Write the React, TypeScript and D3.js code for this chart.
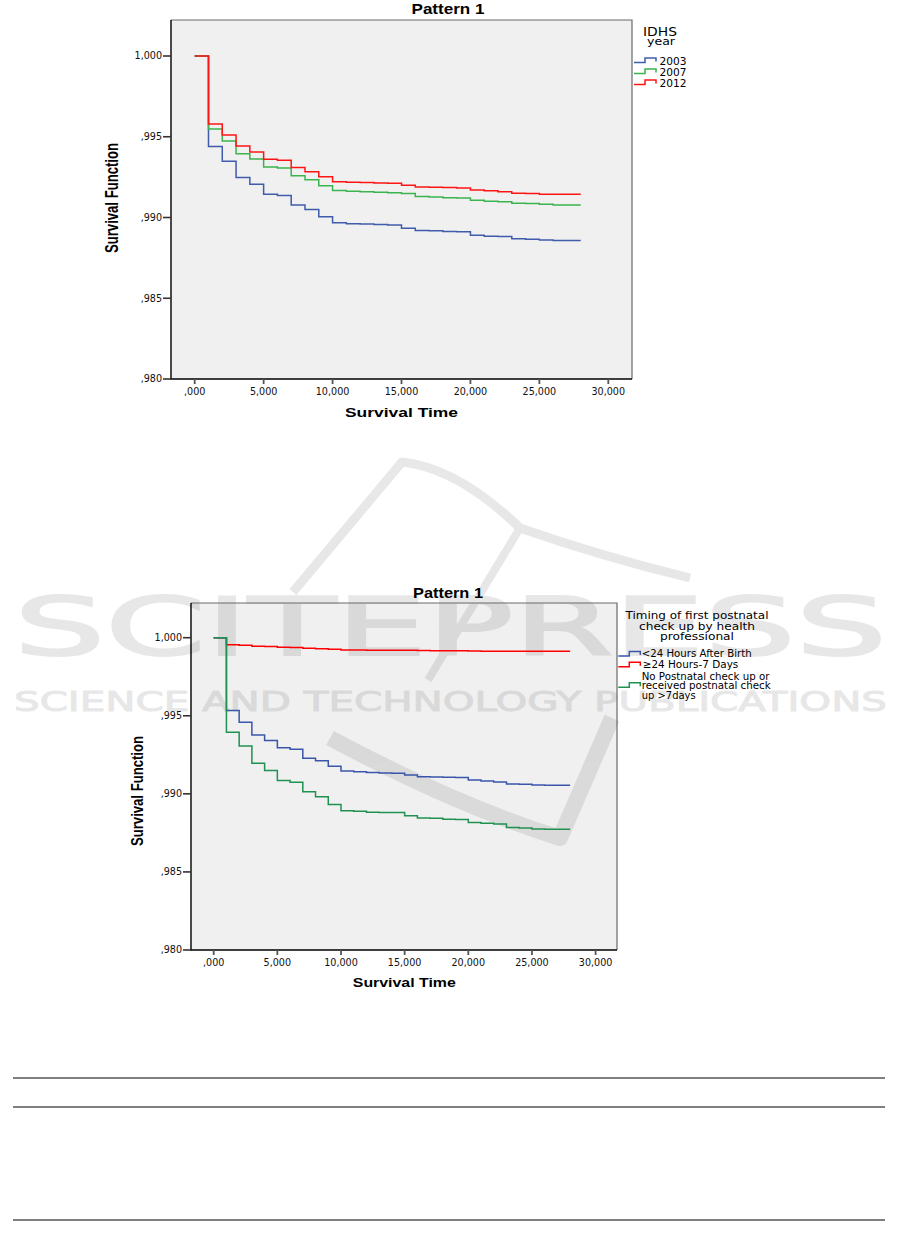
import React from 'react';
import * as d3 from 'd3';

// ---------- data ----------
const TIMES = [0, 1000, 2000, 3000, 4000, 5000, 6000, 7000, 8000, 9000, 10000, 11000, 12000, 13000, 14000,
  15000, 16000, 17000, 18000, 19000, 20000, 21000, 22000, 23000, 24000, 25000, 26000, 27000, 28000];

// Chart 1: IDHS year
const IDHS_2003 = [1, .99439, .99348, .99247, .99206, .99144, .99136, .99078, .99049, .99004, .98967, .98962, .98960, .98956, .98953,
  .98933, .98920, .98918, .98913, .98911, .98890, .98884, .98882, .98868, .98866, .98861, .98857, .98857, .98857];
const IDHS_2007 = [1, .99548, .99474, .99395, .99363, .99313, .99307, .99259, .99233, .99197, .99167, .99163, .99160, .99157, .99154,
  .99148, .99130, .99127, .99123, .99121, .99107, .99101, .99098, .99089, .99087, .99082, .99078, .99078, .99078];
const IDHS_2012 = [1, .99579, .99511, .99443, .99406, .99361, .99355, .99309, .99284, .99253, .99222, .99218, .99216, .99214, .99212,
  .99200, .99189, .99187, .99185, .99183, .99171, .99165, .99160, .99150, .99148, .99144, .99144, .99144, .99144];

// Chart 2: timing of first postnatal check up
const PN_LT24H = [1, .99533, .99458, .99377, .99341, .99295, .99286, .99228, .99212, .99177, .99147, .99142, .99136, .99134, .99132,
  .99121, .99110, .99108, .99106, .99104, .99089, .99083, .99076, .99063, .99061, .99057, .99055, .99055, .99055];
const PN_24H_7D = [1, .99955, .99951, .99945, .99943, .99939, .99937, .99932, .99930, .99926, .99921, .99921, .99920, .99920, .99919,
  .99919, .99918, .99917, .99916, .99916, .99915, .99914, .99914, .99913, .99913, .99913, .99913, .99913, .99913];
const PN_NONE = [1, .99394, .99307, .99196, .99149, .99085, .99074, .99013, .98982, .98932, .98892, .98888, .98882, .98881, .98880,
  .98860, .98846, .98844, .98837, .98835, .98816, .98812, .98807, .98784, .98782, .98775, .98773, .98773, .98773];

const X_TICKS = [0, 5000, 10000, 15000, 20000, 25000, 30000];
const Y_TICKS = [0.98, 0.985, 0.99, 0.995, 1.0];

const LEGEND1_TITLE = ['IDHS', 'year'];
const LEGEND1_LABELS = ['2003', '2007', '2012'];
const LEGEND2_TITLE = ['Timing of first postnatal', 'check up by health', 'professional'];
const LEGEND2_LABELS = [['<24 Hours After Birth'], ['\u226524 Hours-7 Days'], ['No Postnatal check up or', 'received postnatal check', 'up >7days']];

// ---------- helpers ----------
const fmt = (v: number) => d3.format('.3f')(v).replace(/^0\./, ',').replace('.', ',');
const SANS = 'Liberation Sans, Arial, sans-serif';
const DJ = 'DejaVu Sans, Verdana, sans-serif';

type Frame = { l: number; t: number; r: number; b: number };
type Series = { values: number[]; color: string };

function Plot({ frame, xr, yr, series }: { frame: Frame; xr: [number, number]; yr: [number, number]; series: Series[] }) {
  const x = d3.scaleLinear().domain([0, 30000]).range(xr);
  const y = d3.scaleLinear().domain([0.98, 1.0]).range(yr);
  const line = d3.line<number>().x((_, i) => x(TIMES[i])).y(v => y(v)).curve(d3.curveStepAfter);
  return (
    <g>
      {series.map((s, i) => (
        <path key={i} d={line(s.values) || ''} fill="none" stroke={s.color} strokeWidth={1.5} />
      ))}
      <path d={`M${frame.l},${frame.t}H${frame.r}V${frame.b}`} fill="none" stroke="#6a6a6a" strokeWidth={1.2} />
      <path d={`M${frame.l},${frame.t}V${frame.b}H${frame.r}`} fill="none" stroke="#000" strokeWidth={1.4} />
      {Y_TICKS.map(t => (
        <g key={'y' + t}>
          <line x1={frame.l - 8} x2={frame.l} y1={y(t)} y2={y(t)} stroke="#333" strokeWidth={1.6} />
          <text x={frame.l - 9} y={y(t)} dy="0.35em" textAnchor="end" fontFamily={DJ} fontSize={9.6} fill="#111">{fmt(t)}</text>
        </g>
      ))}
      {X_TICKS.map(t => (
        <g key={'x' + t}>
          <line x1={x(t)} x2={x(t)} y1={frame.b} y2={frame.b + 5} stroke="#555" strokeWidth={1.8} />
          <text x={x(t)} y={frame.b + 12.5} dy="0.35em" textAnchor="middle" fontFamily={DJ} fontSize={9.6} fill="#111">{fmt(t / 1000)}</text>
        </g>
      ))}
    </g>
  );
}

function StepIcon({ x, y, color }: { x: number; y: number; color: string }) {
  return <path d={`M${x},${y}H${x + 11}V${y - 4.5}H${x + 22}V${y - 1}`} fill="none" stroke={color} strokeWidth={1.5} />;
}

export default function App() {
  const f1: Frame = { l: 171, t: 20, r: 632, b: 379 };
  const f2: Frame = { l: 191, t: 603, r: 617, b: 950 };
  const c1 = { blue: '#3f5bab', green: '#3bb34e', red: '#ff1414' };
  const c2 = { blue: '#3a56aa', red: '#ff0000', green: '#1f9150' };
  return (
    <svg width={901} height={1248} style={{ position: 'absolute', left: 0, top: 0, background: '#fff' }}>
      <rect x={f1.l} y={f1.t} width={f1.r - f1.l} height={f1.b - f1.t} fill="#f0f0f0" />
      <rect x={f2.l} y={f2.t} width={f2.r - f2.l} height={f2.b - f2.t} fill="#f0f0f0" />

      {/* watermark */}
      <g opacity={0.09}>
        <text x={14} y={655} fontFamily={DJ} fontSize={80} textLength={873} lengthAdjust="spacingAndGlyphs" fill="#000" stroke="#000" strokeWidth={2}>SCITEPRESS</text>
        <text x={14} y={711} fontFamily={DJ} fontSize={27} textLength={873} lengthAdjust="spacingAndGlyphs" fill="#000" stroke="#000" strokeWidth={1}>SCIENCE AND TECHNOLOGY PUBLICATIONS</text>
        <path d="M293,592 L402,462 Q458,468 520,528 Q600,556 690,578" fill="none" stroke="#000" strokeWidth={9} strokeLinejoin="round" />
        <path d="M520,528 L428,680" fill="none" stroke="#000" strokeWidth={8} />
        <path d="M330,738 Q455,805 560,838 L612,718" fill="none" stroke="#000" strokeWidth={16} strokeLinejoin="round" />
      </g>

      {/* chart 1 */}
      <text x={448} y={14} textAnchor="middle" fontFamily={SANS} fontWeight="bold" fontSize={15.5} textLength={73} lengthAdjust="spacingAndGlyphs">Pattern 1</text>
      <Plot frame={f1} xr={[194.7, 608.3]} yr={[379, 56]}
        series={[{ values: IDHS_2003, color: c1.blue }, { values: IDHS_2007, color: c1.green }, { values: IDHS_2012, color: c1.red }]} />
      <text x={401.5} y={417} textAnchor="middle" fontFamily={SANS} fontWeight="bold" fontSize={13} textLength={113} lengthAdjust="spacingAndGlyphs">Survival Time</text>
      <text transform="translate(118,198) rotate(-90)" textAnchor="middle" fontFamily={SANS} fontWeight="bold" fontSize={18} textLength={110} lengthAdjust="spacingAndGlyphs">Survival Function</text>
      <text x={660} y={36} textAnchor="middle" fontFamily={DJ} fontSize={12.5} textLength={34} lengthAdjust="spacingAndGlyphs">{LEGEND1_TITLE[0]}</text>
      <text x={661} y={45} textAnchor="middle" fontFamily={DJ} fontSize={11} textLength={28} lengthAdjust="spacingAndGlyphs">{LEGEND1_TITLE[1]}</text>
      {LEGEND1_LABELS.map((lab, i) => (
        <g key={lab}>
          <StepIcon x={634} y={62.5 + i * 11} color={[c1.blue, c1.green, c1.red][i]} />
          <text x={659.5} y={65 + i * 11.1} fontFamily={DJ} fontSize={10.6} textLength={27} lengthAdjust="spacingAndGlyphs">{lab}</text>
        </g>
      ))}

      {/* chart 2 */}
      <text x={448} y={598.3} textAnchor="middle" fontFamily={SANS} fontWeight="bold" fontSize={15} textLength={70} lengthAdjust="spacingAndGlyphs">Pattern 1</text>
      <Plot frame={f2} xr={[213.7, 595.6]} yr={[950, 637.7]}
        series={[{ values: PN_24H_7D, color: c2.red }, { values: PN_LT24H, color: c2.blue }, { values: PN_NONE, color: c2.green }]} />
      <text x={404.3} y={986.7} textAnchor="middle" fontFamily={SANS} fontWeight="bold" fontSize={13.5} textLength={103} lengthAdjust="spacingAndGlyphs">Survival Time</text>
      <text transform="translate(142.7,791) rotate(-90)" textAnchor="middle" fontFamily={SANS} fontWeight="bold" fontSize={17} textLength={110} lengthAdjust="spacingAndGlyphs">Survival Function</text>
      {LEGEND2_TITLE.map((t, i) => (
        <text key={t} x={697} y={619 + i * 10.5} textAnchor="middle" fontFamily={DJ} fontSize={11} textLength={[143, 116, 74][i]} lengthAdjust="spacingAndGlyphs">{t}</text>
      ))}
      <StepIcon x={618.3} y={656} color={c2.blue} />
      <StepIcon x={618.3} y={666.7} color={c2.red} />
      <StepIcon x={618.3} y={687.3} color={c2.green} />
      <text x={641.7} y={657.3} fontFamily={DJ} fontSize={10.8} textLength={110} lengthAdjust="spacingAndGlyphs">{LEGEND2_LABELS[0][0]}</text>
      <text x={642.7} y={668.3} fontFamily={DJ} fontSize={10.8} textLength={95.6} lengthAdjust="spacingAndGlyphs">{LEGEND2_LABELS[1][0]}</text>
      {LEGEND2_LABELS[2].map((t, i) => (
        <text key={t} x={641.7} y={680 + i * 9.3} fontFamily={DJ} fontSize={10.3} textLength={[127.7, 129, 54][i]} lengthAdjust="spacingAndGlyphs">{t}</text>
      ))}

      {[1078, 1107, 1220].map(yy => (
        <line key={yy} x1={13} x2={885} y1={yy} y2={yy} stroke="#000" strokeWidth={1} />
      ))}
    </svg>
  );
}
